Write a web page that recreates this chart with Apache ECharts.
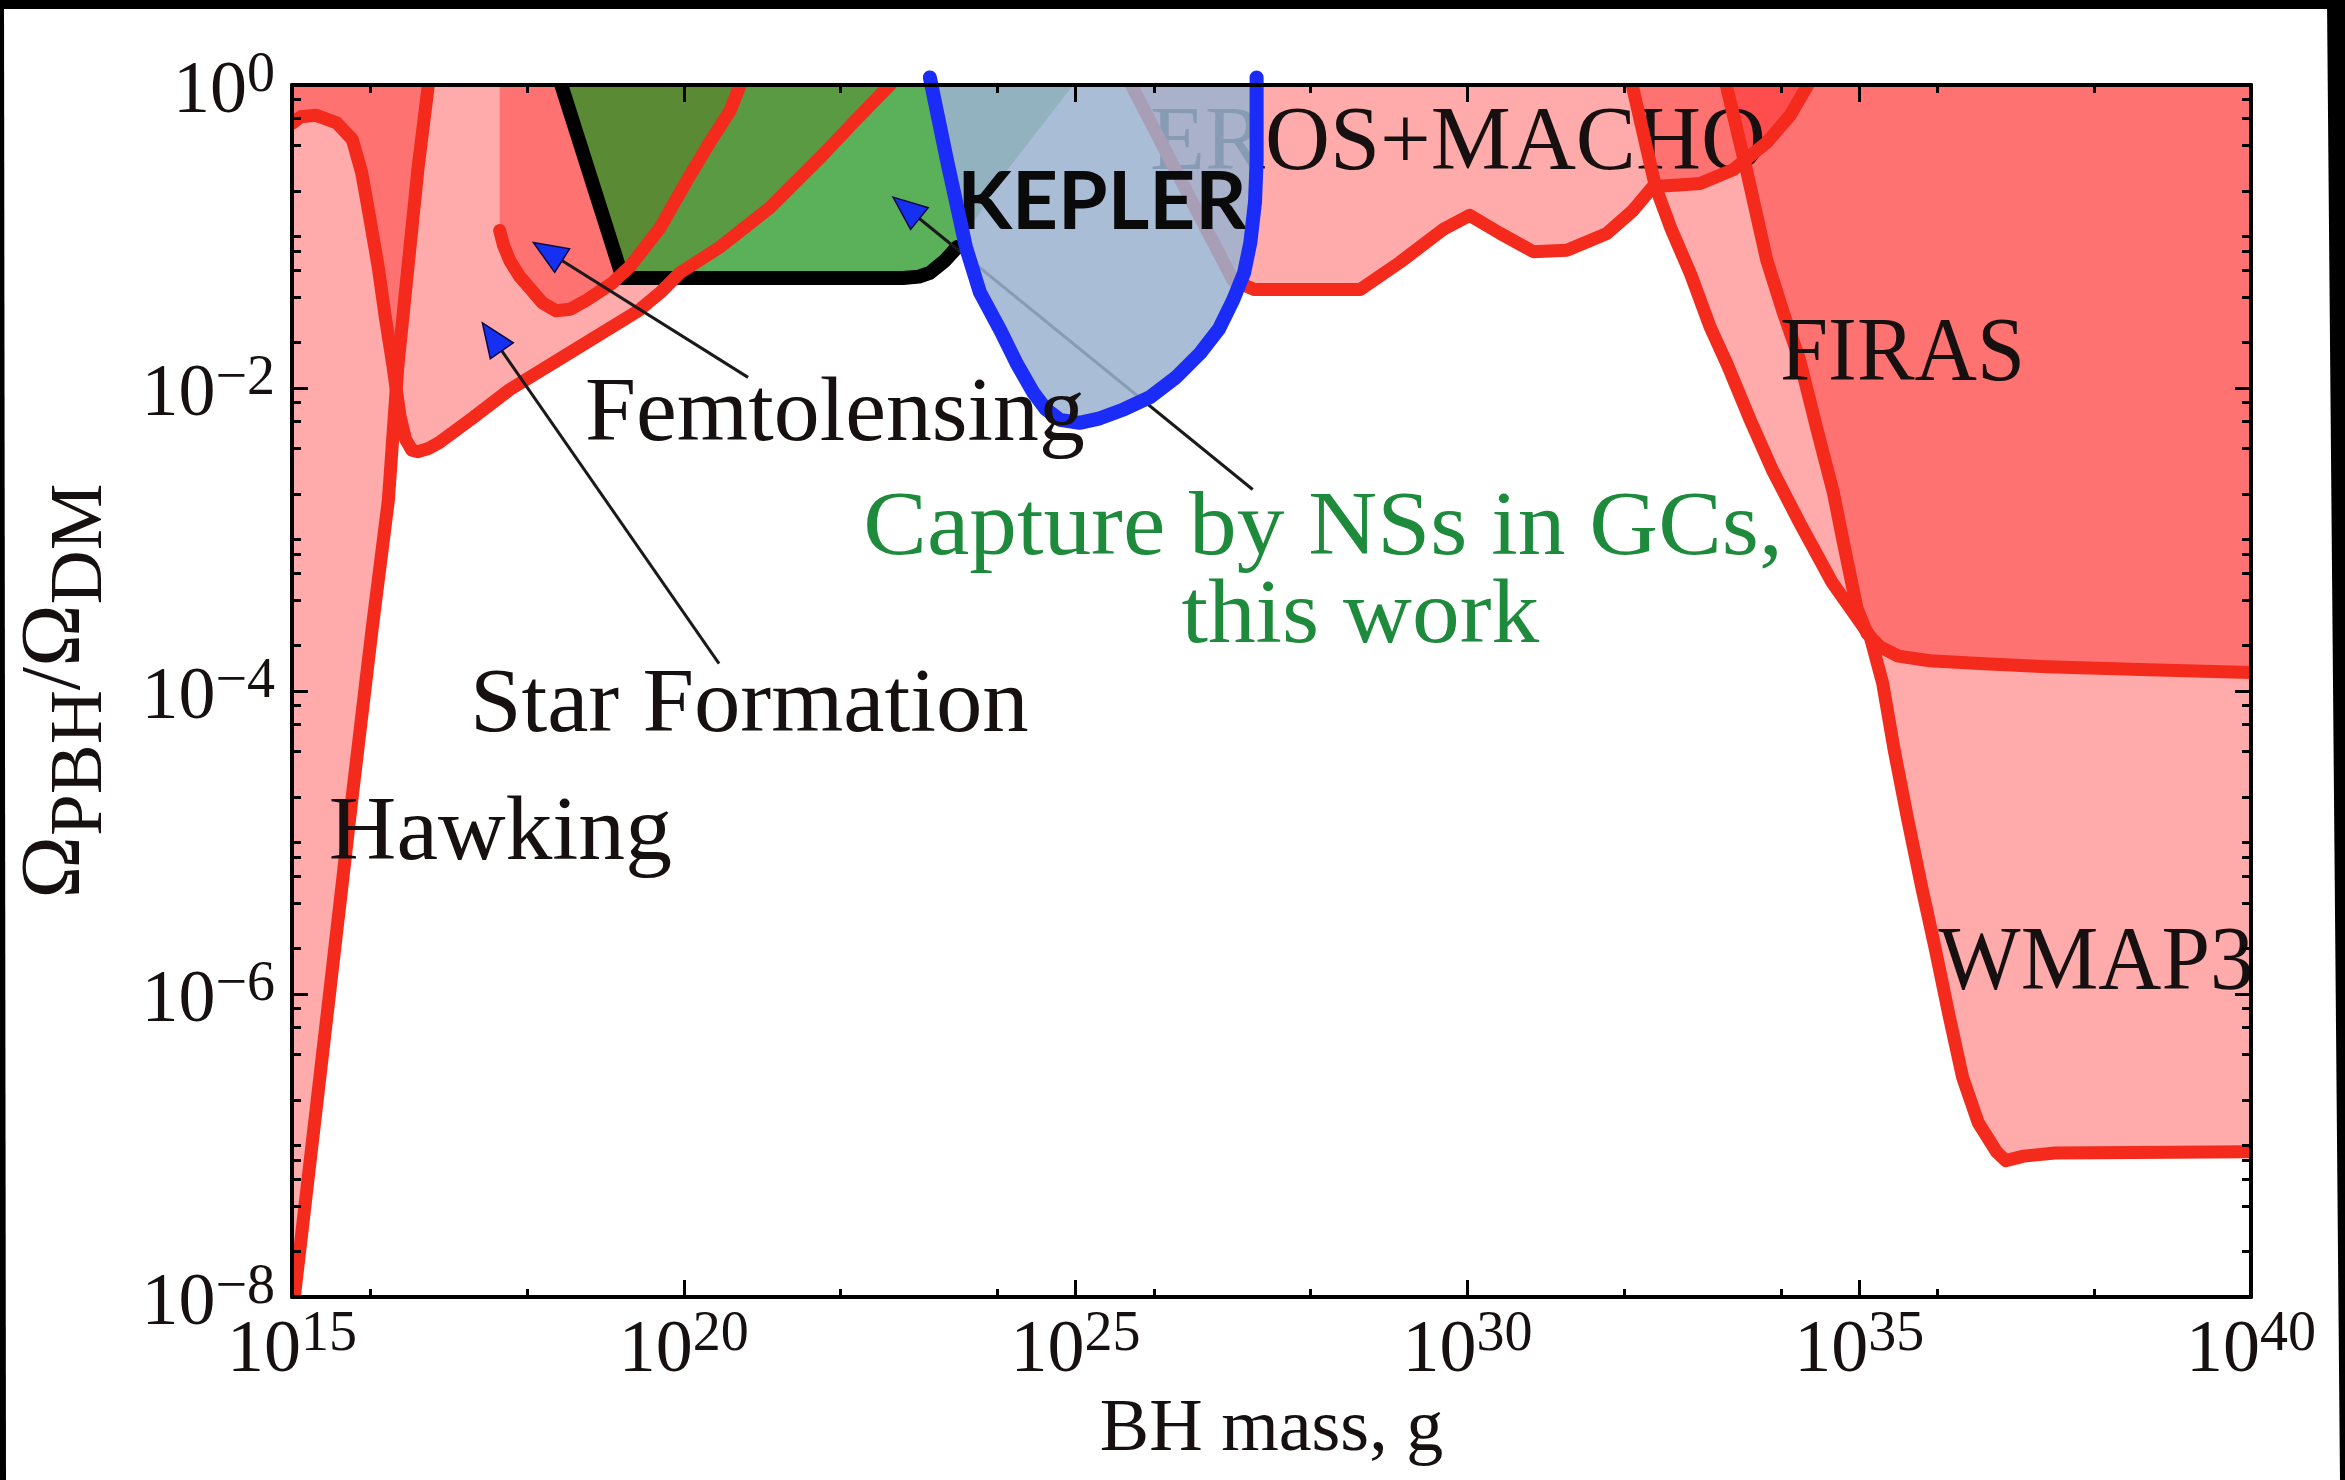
<!DOCTYPE html>
<html>
<head>
<meta charset="utf-8">
<script src="https://cdn.jsdelivr.net/npm/echarts@6/dist/echarts.min.js"></script>
<style>
html,body{margin:0;padding:0;background:#fff;}
#chart{width:2345px;height:1480px;}
</style>
</head>
<body>
<div id="chart"></div>
<script>
// All values are log10 units: x = log10(BH mass / g), y = log10(Omega_PBH / Omega_DM)
const xTickExponents = [15, 20, 25, 30, 35, 40];
const yTickExponents = [-8, -6, -4, -2, 0];

// Hawking evaporation limit
const hawkingM = [14.98, 15.03, 15.47, 15.77, 16.02, 16.23, 16.35, 16.48, 16.61, 16.74, 16.76];
const hawkingF = [-8.15, -8.0, -6.04, -4.69, -3.60, -2.74, -1.86, -1.20, -0.54, 0.0, 0.08];

// Star formation limit
const starM = [14.95, 15.01, 15.11, 15.31, 15.57, 15.77, 15.89, 15.99, 16.10, 16.19, 16.29, 16.38, 16.45, 16.53, 16.61, 16.74, 16.88, 17.30, 17.78, 18.60, 19.42, 19.70, 19.95, 20.46, 21.10, 21.74, 22.16, 22.63, 22.70];
const starF = [-0.27, -0.25, -0.21, -0.20, -0.25, -0.36, -0.58, -0.87, -1.20, -1.53, -1.86, -2.19, -2.34, -2.41, -2.42, -2.40, -2.36, -2.20, -2.01, -1.75, -1.49, -1.37, -1.24, -1.07, -0.81, -0.48, -0.25, 0.0, 0.05];

// Femtolensing limit
const femtoM = [17.65, 17.70, 17.78, 17.90, 18.05, 18.20, 18.37, 18.55, 18.76, 19.08, 19.31, 19.70, 20.04, 20.33, 20.59, 20.72, 20.76];
const femtoF = [-0.96, -1.06, -1.16, -1.26, -1.35, -1.44, -1.49, -1.48, -1.42, -1.31, -1.20, -0.94, -0.63, -0.38, -0.17, 0.0, 0.05];

// Capture by NSs in GCs (this work)
const nsM = [18.42, 18.40, 19.22, 22.80, 23.00, 23.14, 23.33, 23.49, 24.16, 24.97];
const nsF = [0.0, 0.06, -1.274, -1.274, -1.265, -1.24, -1.16, -1.07, -0.54, 0.0];
const nsEdgeCount = 8;

// Kepler limit
const keplerM = [23.14, 23.36, 23.60, 23.78, 24.04, 24.25, 24.46, 24.62, 24.80, 25.05, 25.31, 25.62, 25.95, 26.28, 26.59, 26.83, 27.01, 27.15, 27.23, 27.29, 27.31, 27.31];
const keplerF = [0.05, -0.50, -1.07, -1.37, -1.62, -1.84, -2.03, -2.14, -2.21, -2.23, -2.20, -2.14, -2.06, -1.93, -1.77, -1.61, -1.42, -1.24, -1.04, -0.77, -0.50, 0.05];

// EROS+MACHO limit
const erosM = [25.66, 27.01, 27.28, 28.63, 29.14, 29.70, 30.03, 30.42, 30.84, 31.27, 31.78, 32.11, 32.37, 32.70, 32.97, 33.39, 33.82, 34.12, 34.40];
const erosF = [0.05, -1.29, -1.35, -1.35, -1.17, -0.95, -0.86, -0.98, -1.10, -1.09, -0.98, -0.83, -0.67, -0.66, -0.65, -0.56, -0.38, -0.20, 0.05];

// WMAP3 limit
const wmapM = [32.08, 32.40, 32.60, 32.85, 33.10, 33.32, 33.60, 33.90, 34.25, 34.65, 34.95, 35.14, 35.30, 35.45, 35.62, 35.80, 35.97, 36.15, 36.32, 36.52, 36.75, 36.87, 37.10, 37.50, 40.2];
const wmapF = [0.05, -0.67, -0.95, -1.25, -1.60, -1.85, -2.20, -2.55, -2.90, -3.28, -3.50, -3.64, -3.95, -4.40, -4.85, -5.30, -5.70, -6.15, -6.55, -6.85, -7.04, -7.10, -7.07, -7.05, -7.04];

// FIRAS limit
const firasM = [33.28, 33.57, 33.82, 34.03, 34.24, 34.45, 34.67, 34.79, 34.97, 35.10, 35.27, 35.50, 35.90, 36.60, 37.40, 38.70, 40.2];
const firasF = [0.05, -0.58, -1.155, -1.50, -1.815, -2.25, -2.69, -3.00, -3.45, -3.62, -3.71, -3.77, -3.80, -3.82, -3.84, -3.86, -3.88];

// Labels
const labelTexts = ['Hawking', 'Star Formation', 'Femtolensing', 'FIRAS', 'WMAP3'];
const labelM = [15.47, 17.27, 18.74, 33.99, 36.01];
const labelF = [-4.95, -4.11, -2.19, -1.79, -5.81];
const greenTexts = ['Capture by NSs in GCs,', 'this work'];
const greenM = [22.29, 26.35];
const greenF = [-2.94, -3.52];
const erosLabel = 'EROS+MACHO';
const erosLabelPos = [25.95, -0.40];
const keplerLabel = 'KEPLER';
const keplerLabelPos = [23.49, -0.78];

// Arrows (tail -> tip)
const arrowTailM = [20.82, 20.45, 27.26];
const arrowTailF = [-1.93, -3.82, -2.67];
const arrowTipM = [18.08, 17.43, 22.67];
const arrowTipF = [-1.04, -1.57, -0.74];

// ---------------------------------------------------------------
const X0 = 15, X1 = 40, Y0 = -8, Y1 = 0, PAD = 0.3;
const FONT = 'Liberation Serif';
const TXT = '#161010';
const PINK = 'rgba(255,0,0,0.33)';
const RED = '#F42A1C';
const GREEN_FILL = 'rgba(27,147,27,0.72)';
const KEPLER_FILL = 'rgba(155,178,208,0.86)';
const BLUE = '#1B2CF8';
const GREEN_TEXT = '#1E8A3C';
// horizontal stretch of each label (style only)
const labelStretch = [1.04, 1.03, 1.02, 0.96, 0.97];
const greenStretch = [1.06, 1.06];

const xMinor = [];
for (let e = 16; e < 40; e += 2) if (e % 5 !== 0) xMinor.push(e);
const yMinor = [];
for (let n = -8; n < 0; n++) {
  if (n % 2 !== 0) yMinor.push(n);
  [2, 4, 6, 8].forEach(k => yMinor.push(n + Math.log10(k)));
}

function pairs(ms, fs) { return ms.map((m, i) => [m, fs[i]]); }

function fillSeries(ms, fs, closure, color, z) {
  const pts = pairs(ms, fs).concat(closure);
  return {
    type: 'custom', coordinateSystem: 'cartesian2d', z: z, clip: true, silent: true,
    data: pts,
    renderItem: function (params, api) {
      if (params.dataIndex !== 0) return null;
      return { type: 'polygon', shape: { points: pts.map(p => api.coord(p)) }, style: { fill: color } };
    }
  };
}

function lineSeries(ms, fs, color, width, z, clip) {
  const pts = pairs(ms, fs);
  return {
    type: 'custom', coordinateSystem: 'cartesian2d', z: z, clip: clip !== false, silent: true,
    data: pts,
    renderItem: function (params, api) {
      if (params.dataIndex !== 0) return null;
      return {
        type: 'polyline', shape: { points: pts.map(p => api.coord(p)) },
        style: { stroke: color, lineWidth: width, fill: null, lineJoin: 'round', lineCap: 'round' }
      };
    }
  };
}

function textSeries(texts, ms, fs, style, z, stretch) {
  return {
    type: 'custom', coordinateSystem: 'cartesian2d', z: z, clip: false, silent: true,
    data: ms.map((m, i) => [m, fs[i]]),
    renderItem: function (params, api) {
      const p = api.coord([api.value(0), api.value(1)]);
      return {
        type: 'text', x: p[0], y: p[1], scaleX: (stretch && stretch[params.dataIndex]) || 1,
        style: Object.assign({
          text: texts[params.dataIndex],
          align: 'left', verticalAlign: 'middle',
          textAlign: 'left', textVerticalAlign: 'middle'
        }, style)
      };
    }
  };
}

const arrowData = arrowTailM.map((m, i) => [m, arrowTailF[i], arrowTipM[i], arrowTipF[i]]);
function arrowGeom(api) {
  const t = api.coord([api.value(0), api.value(1)]);
  const h = api.coord([api.value(2), api.value(3)]);
  const dx = h[0] - t[0], dy = h[1] - t[1];
  const len = Math.sqrt(dx * dx + dy * dy);
  return { t, h, ux: dx / len, uy: dy / len };
}

const RW = 13;
const series = [
  // translucent constraint regions
  fillSeries(hawkingM, hawkingF, [[X0 - PAD, Y1 + PAD], [X0 - PAD, Y0 - PAD]], PINK, 1),
  fillSeries(starM, starF, [[X0 - PAD, Y1 + PAD]], PINK, 1),
  fillSeries(femtoM, femtoF, [[femtoM[0], Y1 + PAD]], PINK, 1),
  fillSeries(erosM, erosF, [], PINK, 1),
  fillSeries(wmapM, wmapF, [[X1 + PAD, Y1 + PAD]], PINK, 1),
  fillSeries(firasM, firasF, [[X1 + PAD, Y1 + PAD]], PINK, 1),
  // EROS+MACHO label (sits below the Kepler region)
  textSeries([erosLabel], [erosLabelPos[0]], [erosLabelPos[1]], { fill: TXT, fontFamily: FONT, fontSize: 90 }, 2, [1.0]),
  // this work
  fillSeries(nsM, nsF, [], GREEN_FILL, 3),
  lineSeries(nsM.slice(1, nsEdgeCount), nsF.slice(1, nsEdgeCount), '#000', 14, 4, true),
  // red boundaries
  lineSeries(hawkingM, hawkingF, RED, RW, 5),
  lineSeries(starM, starF, RED, RW, 5),
  lineSeries(femtoM, femtoF, RED, RW, 5),
  lineSeries(erosM, erosF, RED, RW, 5),
  lineSeries(wmapM, wmapF, RED, RW, 5),
  lineSeries(firasM, firasF, RED, RW, 5),
  // arrow shafts
  {
    type: 'custom', coordinateSystem: 'cartesian2d', z: 6, clip: false, silent: true,
    data: arrowData,
    renderItem: function (params, api) {
      const g = arrowGeom(api);
      return {
        type: 'line',
        shape: { x1: g.t[0], y1: g.t[1], x2: g.h[0] - g.ux * 20, y2: g.h[1] - g.uy * 20 },
        style: { stroke: '#1a1a1a', lineWidth: 3 }
      };
    }
  },
  // Kepler
  fillSeries(keplerM, keplerF.map(v => Math.min(v, Y1)), [], KEPLER_FILL, 7),
  textSeries([keplerLabel], [keplerLabelPos[0]], [keplerLabelPos[1]], { fill: '#0a0a0a', fontFamily: 'Lato', fontWeight: 'bold', fontSize: 80 }, 8),
  lineSeries(keplerM, keplerF, BLUE, 14, 9, false),
  // arrow heads
  {
    type: 'custom', coordinateSystem: 'cartesian2d', z: 10, clip: false, silent: true,
    data: arrowData,
    renderItem: function (params, api) {
      const g = arrowGeom(api);
      const L = 34, W = 14;
      const bx = g.h[0] - g.ux * L, by = g.h[1] - g.uy * L;
      return {
        type: 'polygon',
        shape: { points: [[g.h[0], g.h[1]], [bx - g.uy * W, by + g.ux * W], [bx + g.uy * W, by - g.ux * W]] },
        style: { fill: '#1530F0', stroke: '#0a0a40', lineWidth: 1.5 }
      };
    }
  },
  // labels
  textSeries(labelTexts, labelM, labelF, { fill: TXT, fontFamily: FONT, fontSize: 90 }, 11, labelStretch),
  textSeries(greenTexts, greenM, greenF, { fill: GREEN_TEXT, fontFamily: FONT, fontSize: 90 }, 11, greenStretch)
];

function supText(v) {
  const n = Math.round(v);
  return n < 0 ? '\u2212' + (-n) : String(n);
}
const tickRich = {
  b: { fontFamily: FONT, fontSize: 74, lineHeight: 90, color: TXT },
  s: { fontFamily: FONT, fontSize: 56, lineHeight: 42, verticalAlign: 'top', color: TXT }
};
const tickLine = { color: '#000', width: 3 };
const frameLine = { color: '#000', width: 4 };

function axisBase(min, max) {
  return { type: 'value', min: min, max: max, z: 20, splitLine: { show: false }, silent: true };
}

const xAxis = [
  Object.assign(axisBase(X0, X1), {
    position: 'bottom', interval: 5,
    axisLine: { show: true, onZero: false, lineStyle: frameLine },
    axisTick: { show: true, inside: true, length: 17, lineStyle: tickLine },
    axisLabel: {
      show: true, margin: 10, showMinLabel: true, showMaxLabel: true,
      formatter: v => '{b|10}{s|' + supText(v) + '}', rich: tickRich
    },
    name: 'BH mass, g', nameLocation: 'middle', nameGap: 87,
    nameTextStyle: { fontFamily: FONT, fontSize: 74, lineHeight: 74, color: TXT }
  }),
  Object.assign(axisBase(X0, X1), {
    position: 'bottom',
    axisLine: { show: false, onZero: false },
    axisTick: { show: true, inside: true, length: 8, customValues: xMinor, lineStyle: tickLine },
    axisLabel: { show: false }
  }),
  Object.assign(axisBase(X0, X1), {
    position: 'top', interval: 5,
    axisLine: { show: true, onZero: false, lineStyle: frameLine },
    axisTick: { show: true, inside: true, length: 17, lineStyle: tickLine },
    axisLabel: { show: false }
  }),
  Object.assign(axisBase(X0, X1), {
    position: 'top',
    axisLine: { show: false, onZero: false },
    axisTick: { show: true, inside: true, length: 8, customValues: xMinor, lineStyle: tickLine },
    axisLabel: { show: false }
  })
];

const yAxis = [
  Object.assign(axisBase(Y0, Y1), {
    position: 'left', interval: 2,
    axisLine: { show: true, onZero: false, lineStyle: frameLine },
    axisTick: { show: true, inside: true, length: 16, lineStyle: tickLine },
    axisLabel: {
      show: true, margin: 17, padding: [16, 0, 0, 0], showMinLabel: true, showMaxLabel: true,
      formatter: v => '{b|10}{s|' + supText(v) + '}', rich: tickRich
    },
    name: '{o|\u03A9}{s|PBH}{o|/\u03A9}{s|DM}', nameLocation: 'middle', nameRotate: 90, nameGap: 145,
    nameTextStyle: {
      rich: {
        o: { fontFamily: FONT, fontSize: 84, lineHeight: 84, verticalAlign: 'top', color: TXT },
        s: { fontFamily: FONT, fontSize: 75, lineHeight: 132, color: TXT }
      }
    }
  }),
  Object.assign(axisBase(Y0, Y1), {
    position: 'left',
    axisLine: { show: false, onZero: false },
    axisTick: { show: true, inside: true, length: 9, customValues: yMinor, lineStyle: tickLine },
    axisLabel: { show: false }
  }),
  Object.assign(axisBase(Y0, Y1), {
    position: 'right', interval: 2,
    axisLine: { show: true, onZero: false, lineStyle: frameLine },
    axisTick: { show: true, inside: true, length: 16, lineStyle: tickLine },
    axisLabel: { show: false }
  }),
  Object.assign(axisBase(Y0, Y1), {
    position: 'right',
    axisLine: { show: false, onZero: false },
    axisTick: { show: true, inside: true, length: 9, customValues: yMinor, lineStyle: tickLine },
    axisLabel: { show: false }
  })
];

const chart = echarts.init(document.getElementById('chart'), null, { renderer: 'canvas', width: 2345, height: 1480 });
chart.setOption({
  animation: false,
  backgroundColor: '#ffffff',
  grid: { left: 292, top: 85, width: 1959, height: 1212, containLabel: false, outerBoundsMode: 'none' },
  xAxis: xAxis,
  yAxis: yAxis,
  series: series,
  graphic: [
    { type: 'rect', z: 100, silent: true, shape: { x: 0, y: 0, width: 2345, height: 9 }, style: { fill: '#000' } },
    { type: 'polygon', z: 100, silent: true, shape: { points: [[0, 0], [4, 0], [6, 1480], [0, 1480]] }, style: { fill: '#000' } },
    { type: 'polygon', z: 100, silent: true, shape: { points: [[2327, 0], [2345, 0], [2345, 1480], [2340, 1480]] }, style: { fill: '#000' } }
  ]
});
</script>
</body>
</html>
